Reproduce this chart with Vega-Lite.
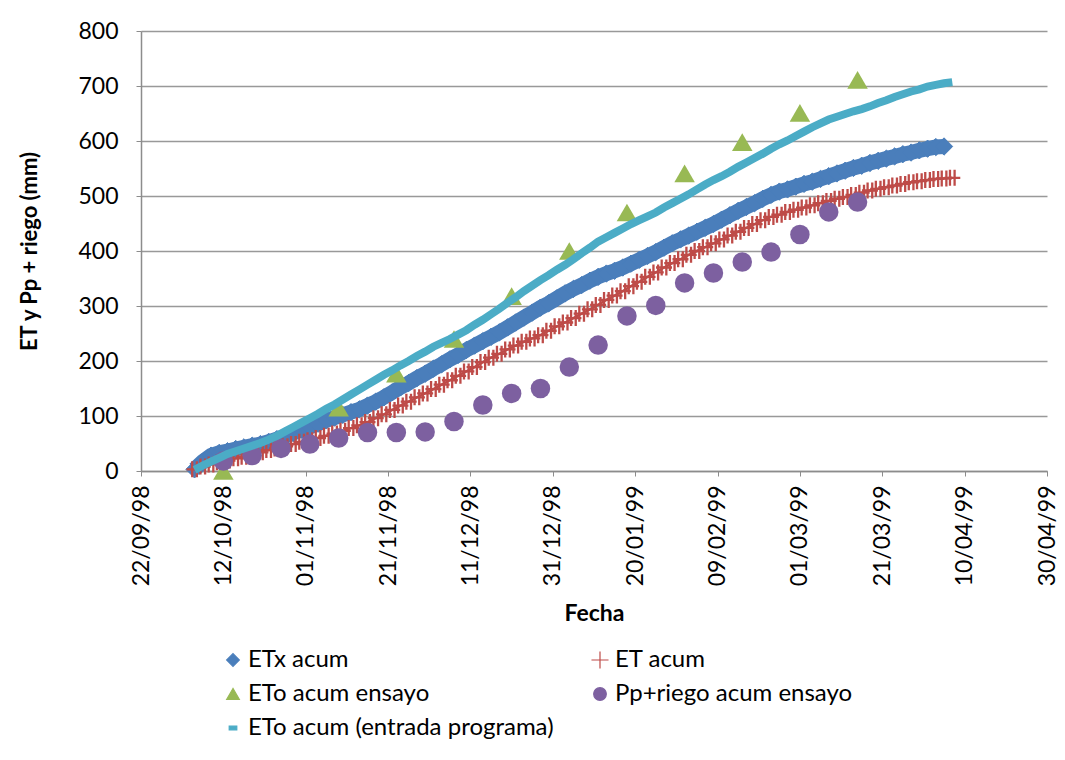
{
  "$schema": "https://vega.github.io/schema/vega-lite/v6.json",
  "width": 906,
  "height": 440,
  "autosize": "none",
  "padding": {"left": 141, "top": 31, "right": 18, "bottom": 289},
  "background": "white",
  "config": {
    "view": {"stroke": null},
    "font": "Lato",
    "legend": {
      "labelFont": "Lato",
      "labelFontSize": 24,
      "labelColor": "black",
      "labelLimit": 500,
      "symbolSize": 160,
      "symbolStrokeWidth": 1.2,
      "rowPadding": 10,
      "columnPadding": 34,
      "labelOffset": 3,
      "padding": 0
    }
  },
  "datasets": {
    "diario": [
      {"fecha": "1998-10-05", "ETx acum": 3, "ET acum": 3, "ETo acum (entrada programa)": 2},
      {"fecha": "1998-10-07", "ETx acum": 17, "ET acum": 8, "ETo acum (entrada programa)": 10},
      {"fecha": "1998-10-09", "ETx acum": 28, "ET acum": 12, "ETo acum (entrada programa)": 17},
      {"fecha": "1998-10-11", "ETx acum": 33, "ET acum": 16, "ETo acum (entrada programa)": 24},
      {"fecha": "1998-10-13", "ETx acum": 36, "ET acum": 19, "ETo acum (entrada programa)": 31},
      {"fecha": "1998-10-15", "ETx acum": 40, "ET acum": 23, "ETo acum (entrada programa)": 36},
      {"fecha": "1998-10-17", "ETx acum": 43, "ET acum": 26, "ETo acum (entrada programa)": 41},
      {"fecha": "1998-10-19", "ETx acum": 46, "ET acum": 30, "ETo acum (entrada programa)": 46},
      {"fecha": "1998-10-21", "ETx acum": 49, "ET acum": 34, "ETo acum (entrada programa)": 51},
      {"fecha": "1998-10-23", "ETx acum": 53, "ET acum": 38, "ETo acum (entrada programa)": 57},
      {"fecha": "1998-10-25", "ETx acum": 58, "ET acum": 41, "ETo acum (entrada programa)": 64},
      {"fecha": "1998-10-27", "ETx acum": 63, "ET acum": 45, "ETo acum (entrada programa)": 72},
      {"fecha": "1998-10-29", "ETx acum": 69, "ET acum": 49, "ETo acum (entrada programa)": 80},
      {"fecha": "1998-10-31", "ETx acum": 75, "ET acum": 53, "ETo acum (entrada programa)": 88},
      {"fecha": "1998-11-02", "ETx acum": 80, "ET acum": 56, "ETo acum (entrada programa)": 96},
      {"fecha": "1998-11-04", "ETx acum": 86, "ET acum": 60, "ETo acum (entrada programa)": 104},
      {"fecha": "1998-11-06", "ETx acum": 92, "ET acum": 64, "ETo acum (entrada programa)": 113},
      {"fecha": "1998-11-08", "ETx acum": 97, "ET acum": 68, "ETo acum (entrada programa)": 121},
      {"fecha": "1998-11-10", "ETx acum": 102, "ET acum": 73, "ETo acum (entrada programa)": 130},
      {"fecha": "1998-11-12", "ETx acum": 107, "ET acum": 78, "ETo acum (entrada programa)": 139},
      {"fecha": "1998-11-14", "ETx acum": 112, "ET acum": 83, "ETo acum (entrada programa)": 148},
      {"fecha": "1998-11-16", "ETx acum": 119, "ET acum": 89, "ETo acum (entrada programa)": 157},
      {"fecha": "1998-11-18", "ETx acum": 126, "ET acum": 96, "ETo acum (entrada programa)": 166},
      {"fecha": "1998-11-20", "ETx acum": 134, "ET acum": 103, "ETo acum (entrada programa)": 175},
      {"fecha": "1998-11-22", "ETx acum": 143, "ET acum": 111, "ETo acum (entrada programa)": 183},
      {"fecha": "1998-11-24", "ETx acum": 152, "ET acum": 119, "ETo acum (entrada programa)": 192},
      {"fecha": "1998-11-26", "ETx acum": 160, "ET acum": 126, "ETo acum (entrada programa)": 200},
      {"fecha": "1998-11-28", "ETx acum": 169, "ET acum": 134, "ETo acum (entrada programa)": 209},
      {"fecha": "1998-11-30", "ETx acum": 177, "ET acum": 141, "ETo acum (entrada programa)": 217},
      {"fecha": "1998-12-02", "ETx acum": 186, "ET acum": 149, "ETo acum (entrada programa)": 226},
      {"fecha": "1998-12-04", "ETx acum": 194, "ET acum": 157, "ETo acum (entrada programa)": 233},
      {"fecha": "1998-12-06", "ETx acum": 203, "ET acum": 165, "ETo acum (entrada programa)": 240},
      {"fecha": "1998-12-08", "ETx acum": 211, "ET acum": 173, "ETo acum (entrada programa)": 248},
      {"fecha": "1998-12-10", "ETx acum": 220, "ET acum": 181, "ETo acum (entrada programa)": 256},
      {"fecha": "1998-12-12", "ETx acum": 228, "ET acum": 189, "ETo acum (entrada programa)": 266},
      {"fecha": "1998-12-14", "ETx acum": 236, "ET acum": 198, "ETo acum (entrada programa)": 275},
      {"fecha": "1998-12-16", "ETx acum": 244, "ET acum": 206, "ETo acum (entrada programa)": 285},
      {"fecha": "1998-12-18", "ETx acum": 252, "ET acum": 213, "ETo acum (entrada programa)": 295},
      {"fecha": "1998-12-20", "ETx acum": 261, "ET acum": 221, "ETo acum (entrada programa)": 306},
      {"fecha": "1998-12-22", "ETx acum": 270, "ET acum": 228, "ETo acum (entrada programa)": 316},
      {"fecha": "1998-12-24", "ETx acum": 279, "ET acum": 235, "ETo acum (entrada programa)": 327},
      {"fecha": "1998-12-26", "ETx acum": 288, "ET acum": 241, "ETo acum (entrada programa)": 337},
      {"fecha": "1998-12-28", "ETx acum": 297, "ET acum": 247, "ETo acum (entrada programa)": 347},
      {"fecha": "1998-12-30", "ETx acum": 305, "ET acum": 255, "ETo acum (entrada programa)": 356},
      {"fecha": "1999-01-01", "ETx acum": 314, "ET acum": 263, "ETo acum (entrada programa)": 366},
      {"fecha": "1999-01-03", "ETx acum": 323, "ET acum": 270, "ETo acum (entrada programa)": 375},
      {"fecha": "1999-01-05", "ETx acum": 331, "ET acum": 278, "ETo acum (entrada programa)": 385},
      {"fecha": "1999-01-07", "ETx acum": 338, "ET acum": 286, "ETo acum (entrada programa)": 396},
      {"fecha": "1999-01-09", "ETx acum": 346, "ET acum": 294, "ETo acum (entrada programa)": 406},
      {"fecha": "1999-01-11", "ETx acum": 353, "ET acum": 302, "ETo acum (entrada programa)": 417},
      {"fecha": "1999-01-13", "ETx acum": 359, "ET acum": 311, "ETo acum (entrada programa)": 425},
      {"fecha": "1999-01-15", "ETx acum": 364, "ET acum": 319, "ETo acum (entrada programa)": 433},
      {"fecha": "1999-01-17", "ETx acum": 370, "ET acum": 327, "ETo acum (entrada programa)": 441},
      {"fecha": "1999-01-19", "ETx acum": 377, "ET acum": 336, "ETo acum (entrada programa)": 449},
      {"fecha": "1999-01-21", "ETx acum": 384, "ET acum": 344, "ETo acum (entrada programa)": 456},
      {"fecha": "1999-01-23", "ETx acum": 391, "ET acum": 353, "ETo acum (entrada programa)": 463},
      {"fecha": "1999-01-25", "ETx acum": 398, "ET acum": 361, "ETo acum (entrada programa)": 470},
      {"fecha": "1999-01-27", "ETx acum": 406, "ET acum": 370, "ETo acum (entrada programa)": 479},
      {"fecha": "1999-01-29", "ETx acum": 414, "ET acum": 378, "ETo acum (entrada programa)": 487},
      {"fecha": "1999-01-31", "ETx acum": 421, "ET acum": 385, "ETo acum (entrada programa)": 495},
      {"fecha": "1999-02-02", "ETx acum": 428, "ET acum": 393, "ETo acum (entrada programa)": 503},
      {"fecha": "1999-02-04", "ETx acum": 435, "ET acum": 400, "ETo acum (entrada programa)": 512},
      {"fecha": "1999-02-06", "ETx acum": 442, "ET acum": 407, "ETo acum (entrada programa)": 521},
      {"fecha": "1999-02-08", "ETx acum": 449, "ET acum": 414, "ETo acum (entrada programa)": 529},
      {"fecha": "1999-02-10", "ETx acum": 457, "ET acum": 421, "ETo acum (entrada programa)": 536},
      {"fecha": "1999-02-12", "ETx acum": 465, "ET acum": 428, "ETo acum (entrada programa)": 544},
      {"fecha": "1999-02-14", "ETx acum": 473, "ET acum": 435, "ETo acum (entrada programa)": 553},
      {"fecha": "1999-02-16", "ETx acum": 480, "ET acum": 442, "ETo acum (entrada programa)": 561},
      {"fecha": "1999-02-18", "ETx acum": 487, "ET acum": 449, "ETo acum (entrada programa)": 569},
      {"fecha": "1999-02-20", "ETx acum": 495, "ET acum": 456, "ETo acum (entrada programa)": 577},
      {"fecha": "1999-02-22", "ETx acum": 502, "ET acum": 462, "ETo acum (entrada programa)": 586},
      {"fecha": "1999-02-24", "ETx acum": 508, "ET acum": 466, "ETo acum (entrada programa)": 594},
      {"fecha": "1999-02-26", "ETx acum": 512, "ET acum": 471, "ETo acum (entrada programa)": 601},
      {"fecha": "1999-02-28", "ETx acum": 517, "ET acum": 475, "ETo acum (entrada programa)": 609},
      {"fecha": "1999-03-02", "ETx acum": 522, "ET acum": 479, "ETo acum (entrada programa)": 617},
      {"fecha": "1999-03-04", "ETx acum": 526, "ET acum": 483, "ETo acum (entrada programa)": 625},
      {"fecha": "1999-03-06", "ETx acum": 531, "ET acum": 487, "ETo acum (entrada programa)": 632},
      {"fecha": "1999-03-08", "ETx acum": 536, "ET acum": 491, "ETo acum (entrada programa)": 639},
      {"fecha": "1999-03-10", "ETx acum": 541, "ET acum": 495, "ETo acum (entrada programa)": 644},
      {"fecha": "1999-03-12", "ETx acum": 546, "ET acum": 498, "ETo acum (entrada programa)": 649},
      {"fecha": "1999-03-14", "ETx acum": 551, "ET acum": 502, "ETo acum (entrada programa)": 654},
      {"fecha": "1999-03-16", "ETx acum": 555, "ET acum": 506, "ETo acum (entrada programa)": 658},
      {"fecha": "1999-03-18", "ETx acum": 560, "ET acum": 510, "ETo acum (entrada programa)": 663},
      {"fecha": "1999-03-20", "ETx acum": 564, "ET acum": 513, "ETo acum (entrada programa)": 669},
      {"fecha": "1999-03-22", "ETx acum": 568, "ET acum": 516, "ETo acum (entrada programa)": 674},
      {"fecha": "1999-03-24", "ETx acum": 572, "ET acum": 519, "ETo acum (entrada programa)": 680},
      {"fecha": "1999-03-26", "ETx acum": 576, "ET acum": 522, "ETo acum (entrada programa)": 685},
      {"fecha": "1999-03-28", "ETx acum": 579, "ET acum": 525, "ETo acum (entrada programa)": 690},
      {"fecha": "1999-03-30", "ETx acum": 583, "ET acum": 527, "ETo acum (entrada programa)": 694},
      {"fecha": "1999-04-01", "ETx acum": 586, "ET acum": 529, "ETo acum (entrada programa)": 699},
      {"fecha": "1999-04-03", "ETx acum": 589, "ET acum": 531, "ETo acum (entrada programa)": 702},
      {"fecha": "1999-04-05", "ETx acum": 590, "ET acum": 532, "ETo acum (entrada programa)": 705},
      {"fecha": "1999-04-07", "ET acum": 533, "ETo acum (entrada programa)": 707}
    ],
    "ensayo": [
      {"fecha": "1998-10-12", "serie": "ETo acum ensayo", "v": 0},
      {"fecha": "1998-11-09", "serie": "ETo acum ensayo", "v": 115},
      {"fecha": "1998-11-23", "serie": "ETo acum ensayo", "v": 177},
      {"fecha": "1998-12-07", "serie": "ETo acum ensayo", "v": 240},
      {"fecha": "1998-12-21", "serie": "ETo acum ensayo", "v": 318},
      {"fecha": "1999-01-04", "serie": "ETo acum ensayo", "v": 400},
      {"fecha": "1999-01-18", "serie": "ETo acum ensayo", "v": 470},
      {"fecha": "1999-02-01", "serie": "ETo acum ensayo", "v": 541},
      {"fecha": "1999-02-15", "serie": "ETo acum ensayo", "v": 598},
      {"fecha": "1999-03-01", "serie": "ETo acum ensayo", "v": 651},
      {"fecha": "1999-03-15", "serie": "ETo acum ensayo", "v": 711},
      {"fecha": "1998-10-12", "serie": "Pp+riego acum ensayo", "v": 18},
      {"fecha": "1998-10-19", "serie": "Pp+riego acum ensayo", "v": 28},
      {"fecha": "1998-10-26", "serie": "Pp+riego acum ensayo", "v": 41},
      {"fecha": "1998-11-02", "serie": "Pp+riego acum ensayo", "v": 49},
      {"fecha": "1998-11-09", "serie": "Pp+riego acum ensayo", "v": 60},
      {"fecha": "1998-11-16", "serie": "Pp+riego acum ensayo", "v": 70},
      {"fecha": "1998-11-23", "serie": "Pp+riego acum ensayo", "v": 70},
      {"fecha": "1998-11-30", "serie": "Pp+riego acum ensayo", "v": 71},
      {"fecha": "1998-12-07", "serie": "Pp+riego acum ensayo", "v": 90},
      {"fecha": "1998-12-14", "serie": "Pp+riego acum ensayo", "v": 120},
      {"fecha": "1998-12-21", "serie": "Pp+riego acum ensayo", "v": 141},
      {"fecha": "1998-12-28", "serie": "Pp+riego acum ensayo", "v": 150},
      {"fecha": "1999-01-04", "serie": "Pp+riego acum ensayo", "v": 189},
      {"fecha": "1999-01-11", "serie": "Pp+riego acum ensayo", "v": 229},
      {"fecha": "1999-01-18", "serie": "Pp+riego acum ensayo", "v": 282},
      {"fecha": "1999-01-25", "serie": "Pp+riego acum ensayo", "v": 301},
      {"fecha": "1999-02-01", "serie": "Pp+riego acum ensayo", "v": 342},
      {"fecha": "1999-02-08", "serie": "Pp+riego acum ensayo", "v": 360},
      {"fecha": "1999-02-15", "serie": "Pp+riego acum ensayo", "v": 380},
      {"fecha": "1999-02-22", "serie": "Pp+riego acum ensayo", "v": 398},
      {"fecha": "1999-03-01", "serie": "Pp+riego acum ensayo", "v": 430},
      {"fecha": "1999-03-08", "serie": "Pp+riego acum ensayo", "v": 471},
      {"fecha": "1999-03-15", "serie": "Pp+riego acum ensayo", "v": 489}
    ]
  },
  "encoding": {
    "x": {
      "field": "fecha",
      "type": "temporal",
      "scale": {
        "type": "utc",
        "domain": [
          {"year": 1998, "month": 9, "date": 22, "utc": true},
          {"year": 1999, "month": 4, "date": 30, "utc": true}
        ]
      },
      "axis": {
        "title": "Fecha",
        "titleFont": "Lato",
        "titleFontSize": 23,
        "titleFontWeight": "bold",
        "titleColor": "black",
        "titlePadding": 17,
        "format": "%d/%m/%y",
        "labelAngle": -90,
        "labelFont": "Lato",
        "labelFontSize": 23,
        "labelColor": "black",
        "labelPadding": 9,
        "labelOverlap": false,
        "labelFlush": false,
        "grid": false,
        "domainColor": "#8c8c8c",
        "domainWidth": 1.5,
        "tickColor": "#8c8c8c",
        "tickSize": 5,
        "values": [
          {"year": 1998, "month": 9, "date": 22, "utc": true},
          {"year": 1998, "month": 10, "date": 12, "utc": true},
          {"year": 1998, "month": 11, "date": 1, "utc": true},
          {"year": 1998, "month": 11, "date": 21, "utc": true},
          {"year": 1998, "month": 12, "date": 11, "utc": true},
          {"year": 1998, "month": 12, "date": 31, "utc": true},
          {"year": 1999, "month": 1, "date": 20, "utc": true},
          {"year": 1999, "month": 2, "date": 9, "utc": true},
          {"year": 1999, "month": 3, "date": 1, "utc": true},
          {"year": 1999, "month": 3, "date": 21, "utc": true},
          {"year": 1999, "month": 4, "date": 10, "utc": true},
          {"year": 1999, "month": 4, "date": 30, "utc": true}
        ]
      }
    },
    "y": {
      "field": "v",
      "type": "quantitative",
      "scale": {"domain": [0, 800], "nice": false},
      "axis": {
        "title": "ET y Pp + riego (mm)",
        "titleFont": "Lato",
        "titleFontSize": 22,
        "titleFontWeight": "bold",
        "titleColor": "black",
        "titlePadding": 36,
        "values": [0, 100, 200, 300, 400, 500, 600, 700, 800],
        "labelFont": "Lato",
        "labelFontSize": 23,
        "labelColor": "black",
        "labelPadding": 18,
        "grid": true,
        "gridColor": "#999999",
        "gridWidth": 1.5,
        "domainColor": "#8c8c8c",
        "domainWidth": 1.5,
        "tickColor": "#8c8c8c",
        "tickSize": 5
      }
    }
  },
  "layer": [
    {
      "data": {"name": "diario"},
      "transform": [{"fold": ["ETx acum"], "as": ["serie", "v"]}, {"filter": "isValid(datum.v)"}],
      "mark": {"type": "line", "color": "#4A7EBB", "strokeWidth": 15}
    },
    {
      "data": {"name": "diario"},
      "transform": [{"fold": ["ETx acum"], "as": ["serie", "v"]}, {"filter": "isValid(datum.v)"}],
      "mark": {"type": "point", "filled": true, "opacity": 1, "size": 300, "strokeWidth": 1},
      "encoding": {
        "fill": {
          "field": "serie", "type": "nominal",
          "scale": {
            "domain": ["ETx acum", "ET acum", "ETo acum ensayo", "Pp+riego acum ensayo", "ETo acum (entrada programa)"],
            "range": ["#4A7EBB", "#BE4B48", "#98B954", "#7D60A0", "#4BACC6"]
          },
          "legend": {"title": null, "orient": "none", "legendX": 80, "legendY": 617, "columns": 2, "direction": "horizontal"}
        },
        "stroke": {
          "field": "serie", "type": "nominal",
          "scale": {
            "domain": ["ETx acum", "ET acum", "ETo acum ensayo", "Pp+riego acum ensayo", "ETo acum (entrada programa)"],
            "range": ["#4A7EBB", "#BE4B48", "#98B954", "#7D60A0", "#4BACC6"]
          },
          "legend": {"title": null, "orient": "none", "legendX": 80, "legendY": 617, "columns": 2, "direction": "horizontal"}
        },
        "shape": {
          "field": "serie", "type": "nominal",
          "scale": {
            "domain": ["ETx acum", "ET acum", "ETo acum ensayo", "Pp+riego acum ensayo", "ETo acum (entrada programa)"],
            "range": ["diamond", "M0,-1.35V1.35M-1.35,0H1.35", "triangle-up", "circle", "M-0.6,-0.3H0.6V0.3H-0.6Z"]
          },
          "legend": {"title": null, "orient": "none", "legendX": 80, "legendY": 617, "columns": 2, "direction": "horizontal"}
        }
      }
    },
    {
      "data": {"name": "diario"},
      "transform": [{"fold": ["ET acum"], "as": ["serie", "v"]}],
      "mark": {"type": "line", "color": "#BE4B48", "strokeWidth": 2.5}
    },
    {
      "data": {"name": "diario"},
      "transform": [{"fold": ["ET acum"], "as": ["serie", "v"]}],
      "mark": {"type": "point", "shape": "M-0.29,-1V1M0.29,-1V1M-1,0H1", "filled": false, "stroke": "#BE4B48", "strokeWidth": 2.3, "opacity": 1, "size": 256}
    },
    {
      "data": {"name": "ensayo"},
      "transform": [{"filter": "datum.serie === 'ETo acum ensayo'"}],
      "mark": {"type": "point", "shape": "triangle-up", "filled": true, "color": "#98B954", "opacity": 1, "size": 420}
    },
    {
      "data": {"name": "ensayo"},
      "transform": [{"filter": "datum.serie === 'Pp+riego acum ensayo'"}],
      "mark": {"type": "point", "shape": "circle", "filled": true, "color": "#7D60A0", "opacity": 1, "size": 380}
    },
    {
      "data": {"name": "diario"},
      "transform": [{"fold": ["ETo acum (entrada programa)"], "as": ["serie", "v"]}],
      "mark": {"type": "line", "color": "#4BACC6", "strokeWidth": 8}
    }
  ]
}
